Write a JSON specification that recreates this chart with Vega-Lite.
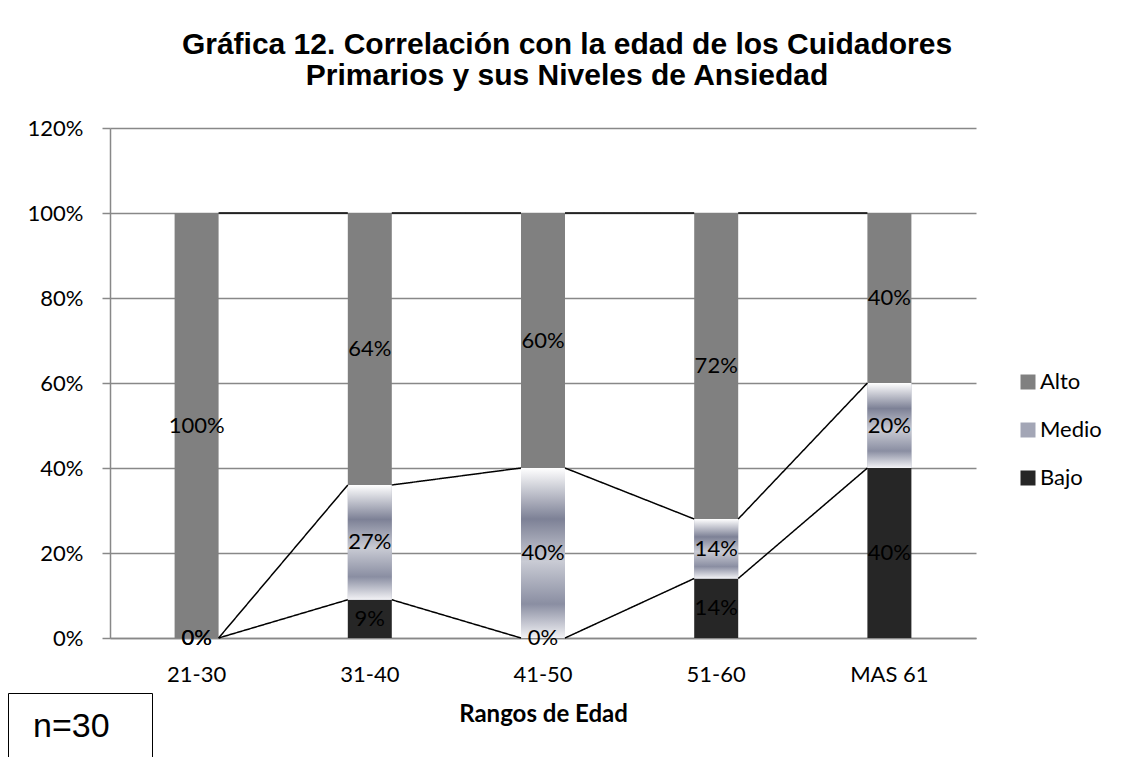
{
  "$schema": "https://vega.github.io/schema/vega-lite/v6.json",
  "width": 866,
  "height": 510,
  "autosize": {"type": "none"},
  "padding": {"left": 110, "top": 128, "right": 151, "bottom": 119},
  "background": "white",
  "config": {
    "view": {"stroke": null},
    "font": "Lato",
    "axis": {
      "labelFont": "Lato", "labelFontSize": 22, "labelColor": "#000000",
      "titleFont": "Lato", "titleColor": "#000000",
      "domainColor": "#888888", "domainWidth": 1.5,
      "gridColor": "#888888", "gridWidth": 1.5,
      "tickColor": "#888888", "tickWidth": 1.5
    }
  },
  "title": {
    "text": ["Gráfica 12. Correlación con la edad de los Cuidadores", "Primarios y sus Niveles de Ansiedad"],
    "font": "Liberation Sans", "fontSize": 30, "fontWeight": "bold", "color": "#000000",
    "anchor": "middle", "frame": "group", "dx": 24, "offset": 26, "lineHeight": 31
  },
  "data": {
    "values": [
      {"rango": "21-30", "nivel": "Bajo", "pct": 0},
      {"rango": "21-30", "nivel": "Medio", "pct": 0},
      {"rango": "21-30", "nivel": "Alto", "pct": 1},
      {"rango": "31-40", "nivel": "Bajo", "pct": 0.09},
      {"rango": "31-40", "nivel": "Medio", "pct": 0.27},
      {"rango": "31-40", "nivel": "Alto", "pct": 0.64},
      {"rango": "41-50", "nivel": "Bajo", "pct": 0},
      {"rango": "41-50", "nivel": "Medio", "pct": 0.40},
      {"rango": "41-50", "nivel": "Alto", "pct": 0.60},
      {"rango": "51-60", "nivel": "Bajo", "pct": 0.14},
      {"rango": "51-60", "nivel": "Medio", "pct": 0.14},
      {"rango": "51-60", "nivel": "Alto", "pct": 0.72},
      {"rango": "MAS 61", "nivel": "Bajo", "pct": 0.40},
      {"rango": "MAS 61", "nivel": "Medio", "pct": 0.20},
      {"rango": "MAS 61", "nivel": "Alto", "pct": 0.40}
    ]
  },
  "transform": [
    {"calculate": "indexof(['Bajo','Medio','Alto'], datum.nivel)", "as": "ord"},
    {"stack": "pct", "groupby": ["rango"], "sort": [{"field": "ord", "order": "ascending"}], "as": ["y0", "y1"]},
    {"calculate": "(datum.y0 + datum.y1) / 2", "as": "ymid"}
  ],
  "encoding": {
    "x": {
      "field": "rango", "type": "nominal",
      "scale": {"domain": ["21-30", "31-40", "41-50", "51-60", "MAS 61"], "paddingInner": 0.746, "paddingOuter": 0.373},
      "axis": {"title": "Rangos de Edad", "titleFontSize": 24, "titleFontWeight": "bold", "labelAngle": 0, "ticks": false, "labelPadding": 26, "titlePadding": 17, "grid": false}
    }
  },
  "layer": [
    {
      "mark": {"type": "bar"},
      "encoding": {
        "y": {
          "field": "y0", "type": "quantitative",
          "scale": {"domain": [0, 1.2], "nice": false},
          "axis": {"values": [0, 0.2, 0.4, 0.6, 0.8, 1, 1.2], "format": ".0%", "title": null, "tickSize": 8, "labelPadding": 19, "grid": true}
        },
        "y2": {"field": "y1"},
        "color": {
          "field": "nivel", "type": "nominal",
          "scale": {"domain": ["Bajo", "Medio", "Alto"], "range": ["#262626", "#a3a6b6", "#808080"]},
          "legend": {
            "title": null, "orient": "none", "legendX": 907, "legendY": 243,
            "values": ["Alto", "Medio", "Bajo"],
            "symbolType": "square", "symbolSize": 225, "symbolStrokeWidth": 0,
            "labelFont": "Lato", "labelFontSize": 22, "labelColor": "#000000",
            "labelOffset": 1, "rowPadding": 26, "padding": 0
          }
        }
      }
    },
    {
      "transform": [{"filter": "datum.nivel === 'Medio'"}],
      "mark": {
        "type": "bar",
        "color": {"gradient": "linear", "x1": 0, "y1": 0, "x2": 0, "y2": 1, "stops": [
          {"offset": 0, "color": "#ffffff"},
          {"offset": 0.3, "color": "#7d8196"},
          {"offset": 0.55, "color": "#c9cbd4"},
          {"offset": 0.8, "color": "#8a8ea2"},
          {"offset": 1, "color": "#f2f2f5"}
        ]}
      },
      "encoding": {
        "y": {"field": "y0", "type": "quantitative"},
        "y2": {"field": "y1"}
      }
    },
    {
      "transform": [
        {"window": [{"op": "lead", "field": "y1", "as": "ny"}, {"op": "lead", "field": "rango", "as": "nr"}], "groupby": ["nivel"], "sort": [{"field": "rango", "order": "ascending"}]},
        {"filter": "datum.nr != null"}
      ],
      "mark": {"type": "rule", "color": "#000000", "strokeWidth": 1.5},
      "encoding": {
        "x": {"field": "rango", "type": "nominal", "bandPosition": 1},
        "x2": {"field": "nr", "bandPosition": 0},
        "y": {"field": "y1", "type": "quantitative"},
        "y2": {"field": "ny"},
        "strokeDash": {
          "datum": "n=30",
          "scale": {"range": [[1, 0]]},
          "legend": {
            "title": null, "orient": "none", "legendX": -102, "legendY": 565,
            "symbolSize": 0, "symbolOpacity": 0, "symbolStrokeWidth": 0,
            "labelFont": "Liberation Sans", "labelFontSize": 34, "labelColor": "#000000",
            "labelOffset": -26, "padding": 17, "strokeColor": "#000000",
            "labelExpr": "datum.label + '\u2800'"
          }
        }
      }
    },
    {
      "mark": {"type": "text", "font": "Lato", "fontSize": 22, "color": "#000000", "align": "center", "baseline": "middle"},
      "encoding": {
        "y": {"field": "ymid", "type": "quantitative"},
        "text": {"field": "pct", "type": "quantitative", "format": ".0%"}
      }
    }
  ]
}
